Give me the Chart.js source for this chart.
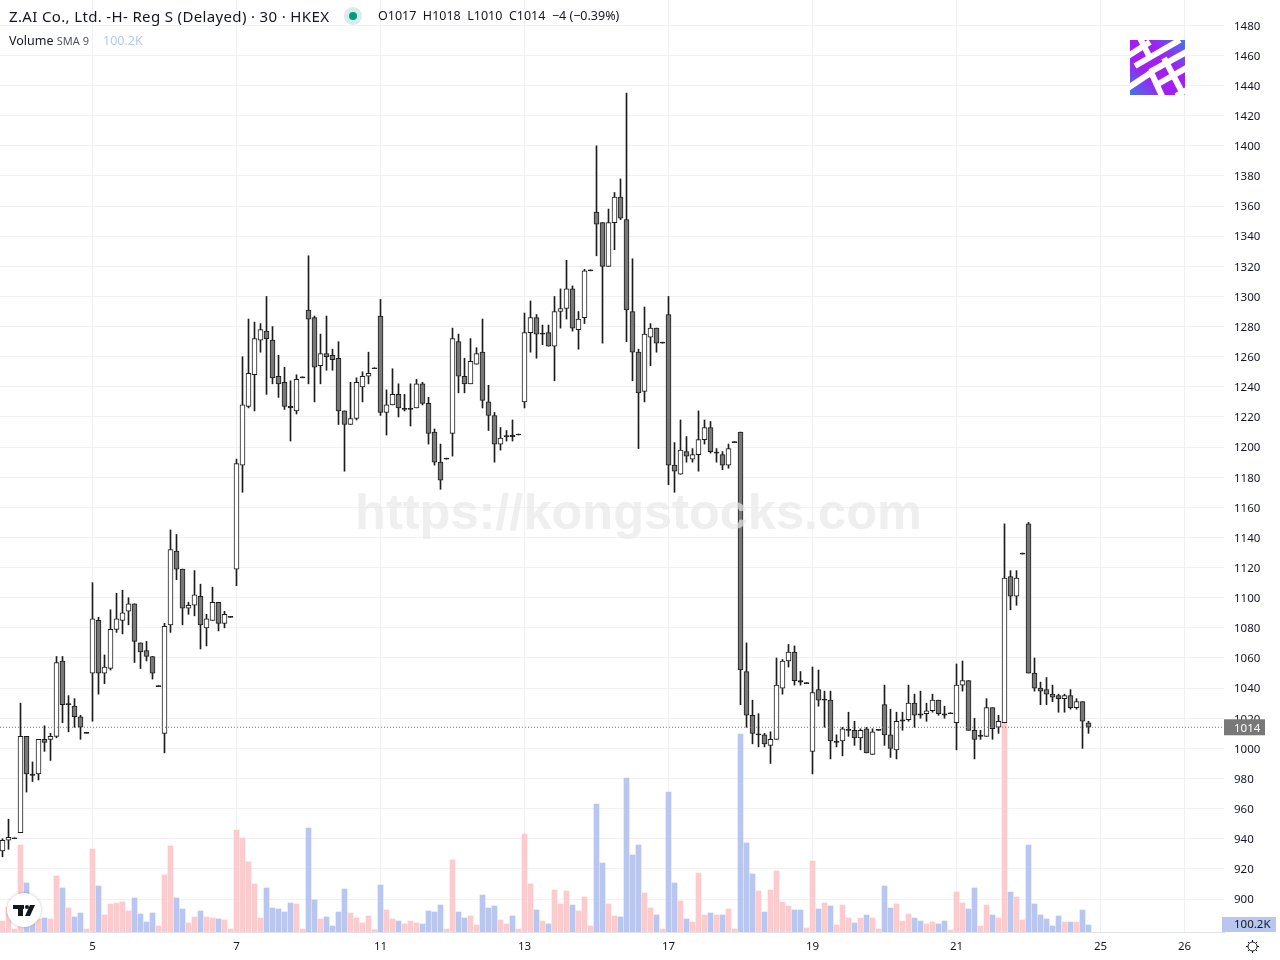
<!DOCTYPE html>
<html>
<head>
<meta charset="utf-8">
<title>Z.AI Co., Ltd. -H- 30</title>
<script src="https://cdn.jsdelivr.net/npm/chart.js@4/dist/chart.umd.min.js"></script>
<style>
  html, body { margin: 0; padding: 0; background: #fff; }
  #wrap { position: relative; width: 1280px; height: 960px; overflow: hidden; font-family: "Noto Sans", sans-serif; color: #131722; }
  canvas { display: block; }
  .txt { position: absolute; white-space: nowrap; line-height: 1; }
</style>
</head>
<body>
<div id="wrap">
  <canvas id="chart" width="1280" height="960"></canvas>
  <div class="txt" style="left:9px;top:9px;font-size:15px;letter-spacing:0.35px">Z.AI Co., Ltd. -H- Reg S (Delayed) · 30 · HKEX</div>
  <div class="txt" style="left:378px;top:10px;font-size:12.5px">O1017&nbsp; H1018&nbsp; L1010&nbsp; C1014&nbsp; −4 (−0.39%)</div>
  <div class="txt" style="left:9px;top:35px;font-size:12.5px">Volume <span style="color:#50535e;font-size:11px">SMA 9</span></div>
  <div class="txt" style="left:103px;top:35px;font-size:12.5px;color:#b8c6f0">100.2K</div>
</div>
<script>
// 30 min bars, one row = 12 bars
const opens = [
  932,939,940,944,1008,983,983,1006,1006,1008,1058,1029,
  1028,1021,1010,1050,1085,1050,1053,1079,1085,1091,1096,1070,
  1065,1061,1041,1010,1082,1131,1119,1093,1095,1101,1080,1085,
  1097,1083,1087,1119,1188,1227,1248,1271,1277,1271,1247,1243,
  1227,1224,1246,1291,1286,1254,1262,1261,1259,1224,1215,1219,
  1240,1247,1252,1287,1223,1228,1235,1225,1225,1226,1242,1229,
  1210,1190,1192,1209,1270,1247,1242,1255,1263,1230,1221,1202,
  1207,1208,1208,1230,1276,1286,1275,1276,1267,1290,1292,1305,
  1278,1286,1317,1356,1349,1320,1349,1366,1351,1290,1263,1237,
  1273,1279,1269,1288,1188,1182,1197,1192,1195,1205,1213,1196,
  1195,1188,1203,1210,1051,1022,1009,1009,1002,1006,1040,1058,
  1064,1045,1043,998,1039,1032,1032,1004,1005,1012,1012,1007,
  1013,996,1012,1029,1009,999,1018,1019,1030,1023,1023,1025,
  1032,1023,1023,1017,1042,1045,1012,1008,1008,1027,1014,1017,
  1114,1101,1129,1149,1050,1040,1039,1036,1035,1033,1035,1027,1031,1017
];
const closes = [
  939,941,940,1008,983,982,1006,1004,1008,1057,1029,1029,
  1021,1014,1010,1086,1050,1054,1079,1086,1090,1096,1071,1064,
  1061,1050,1041,1081,1132,1119,1093,1095,1102,1082,1086,1097,
  1083,1089,1087,1189,1228,1249,1272,1278,1272,1246,1242,1227,
  1226,1245,1246,1285,1253,1262,1260,1258,1224,1215,1219,1243,
  1247,1249,1252,1223,1228,1235,1226,1225,1225,1242,1229,1209,
  1190,1178,1192,1272,1247,1242,1257,1262,1231,1221,1202,1206,
  1207,1207,1208,1276,1286,1275,1275,1267,1290,1292,1305,1279,
  1285,1317,1317,1348,1320,1349,1366,1352,1291,1263,1236,1275,
  1279,1269,1269,1188,1184,1198,1194,1195,1205,1213,1197,1196,
  1188,1199,1203,1052,1022,1010,1009,1003,1006,1042,1058,1064,
  1045,1044,1043,1037,1032,1032,1005,1004,1013,1012,1007,1012,
  997,1011,1012,1009,1000,1018,1019,1030,1022,1022,1025,1032,
  1023,1022,1023,1042,1045,1012,1006,1008,1027,1013,1018,1113,
  1101,1113,1129,1050,1040,1038,1036,1034,1033,1035,1027,1031,1018,1014
];
const highs = [
  940,953,940,1030,1008,991,1006,1015,1010,1061,1061,1035,
  1033,1022,1010,1110,1087,1062,1092,1103,1105,1100,1096,1070,
  1071,1061,1041,1083,1145,1142,1119,1097,1118,1109,1089,1107,
  1097,1091,1087,1192,1260,1285,1283,1282,1300,1280,1261,1253,
  1244,1248,1246,1327,1287,1275,1287,1265,1270,1224,1243,1246,
  1250,1263,1252,1298,1238,1252,1242,1235,1242,1245,1243,1233,
  1212,1202,1192,1279,1275,1259,1272,1266,1285,1241,1223,1213,
  1211,1218,1208,1289,1297,1288,1281,1281,1300,1305,1324,1307,
  1290,1318,1317,1400,1349,1358,1369,1378,1435,1325,1265,1293,
  1282,1279,1269,1300,1203,1218,1207,1199,1224,1218,1217,1199,
  1197,1202,1203,1210,1070,1032,1023,1010,1011,1060,1059,1069,
  1068,1051,1043,1054,1052,1038,1038,1009,1014,1024,1018,1013,
  1014,1013,1012,1042,1026,1024,1024,1042,1036,1038,1030,1036,
  1032,1028,1023,1056,1058,1045,1020,1012,1033,1027,1022,1149,
  1118,1118,1129,1150,1060,1044,1047,1042,1036,1036,1039,1033,1031,1018
];
const lows = [
  928,933,940,944,971,978,979,998,992,1007,1017,1011,
  1014,1006,1010,1018,1036,1043,1052,1077,1076,1082,1057,1053,
  1058,1046,1041,997,1077,1112,1082,1089,1088,1066,1068,1085,
  1078,1080,1087,1108,1170,1226,1224,1263,1235,1242,1233,1225,
  1204,1222,1246,1242,1230,1242,1251,1251,1215,1184,1215,1218,
  1230,1242,1252,1221,1208,1228,1220,1224,1214,1226,1228,1202,
  1188,1172,1192,1194,1236,1236,1242,1255,1226,1211,1190,1198,
  1204,1204,1208,1226,1263,1259,1268,1267,1244,1279,1285,1277,
  1265,1282,1317,1327,1269,1320,1331,1351,1270,1244,1199,1230,
  1254,1263,1269,1175,1170,1182,1190,1190,1184,1202,1196,1190,
  1185,1186,1203,1029,1014,1003,1001,1001,990,1006,1036,1054,
  1042,1042,1043,983,1028,1014,993,1001,995,1008,1002,999,
  997,996,1012,1002,994,993,1012,1018,1014,1020,1018,1024,
  1022,1020,1023,999,1038,1012,993,1006,1008,1006,1010,1017,
  1092,1095,1129,1050,1038,1029,1029,1031,1024,1024,1026,1026,1000,1010
];
// volume in thousands
const volumes = [
  157,353,43,1245,701,167,186,200,186,801,630,343,
  215,272,43,1188,658,243,401,415,429,301,487,258,
  143,272,86,816,1231,487,329,129,215,301,215,200,
  186,172,43,1460,1345,1002,687,200,630,343,329,286,
  415,401,43,1488,458,186,215,86,286,615,272,200,
  129,229,33,673,315,186,157,114,157,129,114,301,
  286,386,43,1030,286,200,229,100,529,343,372,172,
  114,229,43,1402,687,315,157,114,601,401,587,386,
  301,501,86,1832,987,401,229,215,2204,1102,1245,558,
  343,243,43,2003,701,444,186,143,844,243,272,243,
  243,329,43,2833,1274,830,587,286,601,873,429,372,
  315,315,57,1016,329,415,372,100,386,200,129,200,
  243,200,43,658,343,401,157,258,200,157,114,143,
  114,157,29,572,415,329,630,86,386,243,200,3005,
  572,501,172,1245,401,243,186,86,229,143,143,143,315,100
];
const dayLabels = ['5', '7', '11', '13', '17', '19', '21', '25', '26'];
const dayBars = [15, 39, 63, 87, 111, 135, 159, 183, 197];
const priceTicks = [900,920,940,960,980,1000,1020,1040,1060,1080,1100,1120,1140,1160,1180,1200,1220,1240,1260,1280,1300,1320,1340,1360,1380,1400,1420,1440,1460,1480];
const lastPrice = 1014;
const lastVolume = '100.2K';
const watermark = 'https://kongstocks.com';

const GRID = '#f1f1f3';
const WICK = '#1c1c1c';
const xMin = -2.5 / 6, xMax = (1224 - 2.5) / 6;

const isUp = i => closes[i] >= opens[i];
const bodyColor = i => Math.abs(closes[i] - opens[i]) <= 1 ? WICK : (isUp(i) ? '#ffffff' : '#787878');

// no room kept for the half height of the outer tick labels
const noMargins = s => { s.paddingTop = s.paddingBottom = s.paddingLeft = s.paddingRight = 0; };

const overlay = {
  id: 'overlay',
  afterDraw(chart) {
    const ctx = chart.ctx;
    const y = chart.scales.y;
    ctx.save();

    // watermark
    ctx.font = 'bold 50.5px "Liberation Sans"';
    ctx.fillStyle = 'rgba(232,232,232,0.7)';
    ctx.textAlign = 'center';
    ctx.textBaseline = 'middle';
    ctx.fillText(watermark, 638.5, 515);

    // last price tag
    const py = y.getPixelForValue(lastPrice);
    ctx.fillStyle = '#787878';
    ctx.fillRect(1224, py - 8, 41, 16);
    ctx.fillStyle = '#fff';
    ctx.font = '11.5px "Noto Sans"';
    ctx.textAlign = 'left';
    ctx.fillText(String(lastPrice), 1234, py + 1);

    // volume tag
    ctx.fillStyle = '#b8c6f0';
    ctx.fillRect(1222, 917, 54, 15);
    ctx.fillStyle = '#131722';
    ctx.fillText(lastVolume, 1234, 925);

    // status dot
    ctx.fillStyle = '#d5eee9';
    ctx.beginPath(); ctx.arc(353, 16, 9, 0, Math.PI * 2); ctx.fill();
    ctx.fillStyle = '#089981';
    ctx.beginPath(); ctx.arc(353, 16, 4, 0, Math.PI * 2); ctx.fill();

    // gear
    ctx.strokeStyle = '#131722';
    ctx.lineWidth = 1;
    ctx.beginPath(); ctx.arc(1252.5, 946.5, 4.5, 0, Math.PI * 2); ctx.stroke();
    for (let a = 0; a < 8; a++) {
      const r = a * Math.PI / 4;
      ctx.beginPath();
      ctx.moveTo(1252.5 + Math.cos(r) * 4.5, 946.5 + Math.sin(r) * 4.5);
      ctx.lineTo(1252.5 + Math.cos(r) * 6.5, 946.5 + Math.sin(r) * 6.5);
      ctx.stroke();
    }

    // TV badge
    ctx.shadowColor = 'rgba(0,0,0,0.25)';
    ctx.shadowBlur = 3;
    ctx.fillStyle = '#fff';
    ctx.beginPath(); ctx.arc(24, 910, 17, 0, Math.PI * 2); ctx.fill();
    ctx.shadowBlur = 0;
    ctx.fillStyle = '#131722';
    ctx.fillRect(13, 905, 11, 4);
    ctx.fillRect(18, 905, 5, 11);
    ctx.beginPath(); ctx.arc(27, 907, 2, 0, Math.PI * 2); ctx.fill();
    ctx.beginPath();
    ctx.moveTo(30, 905); ctx.lineTo(35, 905); ctx.lineTo(30, 916); ctx.lineTo(25, 916);
    ctx.closePath(); ctx.fill();

    // corner logo
    const g = ctx.createLinearGradient(1130, 95, 1185, 40);
    g.addColorStop(0, '#3f78ea');
    g.addColorStop(0.35, '#a11ff0');
    g.addColorStop(0.65, '#a11ff0');
    g.addColorStop(1, '#3f78ea');
    ctx.save();
    ctx.beginPath(); ctx.rect(1130, 40, 55, 55); ctx.clip();
    ctx.fillStyle = g;
    ctx.fillRect(1130, 40, 55, 55);
    ctx.strokeStyle = '#fff';
    ctx.lineWidth = 6;
    [[1128, 56, 1150, 42], [1135, 66, 1180, 40], [1150, 72, 1190, 50], [1158, 84, 1190, 66], [1176, 96, 1190, 88]].forEach(s => {
      ctx.beginPath(); ctx.moveTo(s[0], s[1]); ctx.lineTo(s[2], s[3]); ctx.stroke();
    });
    [[1140, 38, 1150, 58], [1128, 88, 1152, 72], [1150, 70, 1162, 96], [1164, 58, 1182, 92]].forEach(s => {
      ctx.beginPath(); ctx.moveTo(s[0], s[1]); ctx.lineTo(s[2], s[3]); ctx.stroke();
    });
    ctx.restore();

    ctx.restore();
  }
};

new Chart(document.getElementById('chart'), {
  data: {
    datasets: [
      {
        type: 'bar', label: 'Volume', yAxisID: 'v', order: 4, grouped: false, barThickness: 5,
        data: volumes.map((v, i) => ({ x: i, y: v })),
        backgroundColor: volumes.map((v, i) => isUp(i) ? '#fccbcd' : '#b8c6f0'),
      },
      {
        type: 'bar', label: 'Range', yAxisID: 'y', order: 3, grouped: false, barThickness: 1, minBarLength: 1,
        data: highs.map((h, i) => ({ x: i, y: [lows[i], h] })),
        backgroundColor: WICK,
      },
      {
        type: 'bar', label: 'Body', yAxisID: 'y', order: 2, grouped: false, barThickness: 5, minBarLength: 1,
        data: opens.map((o, i) => ({ x: i, y: [o, closes[i]] })),
        backgroundColor: opens.map((o, i) => bodyColor(i)),
        borderColor: WICK, borderWidth: 1, borderSkipped: false,
      },
      {
        type: 'line', label: 'Last', yAxisID: 'y', order: 1,
        data: [{ x: xMin, y: lastPrice }, { x: xMax, y: lastPrice }],
        borderColor: '#787878', borderWidth: 1, borderDash: [1, 2], pointRadius: 0,
      },
    ]
  },
  options: {
    responsive: false, animation: false, devicePixelRatio: 1,
    layout: { padding: 0 },
    plugins: { legend: { display: false }, tooltip: { enabled: false } },
    scales: {
      x: {
        type: 'linear', min: xMin, max: xMax, offset: false,
        afterBuildTicks: s => { s.ticks = dayBars.map(v => ({ value: v })); },
        afterFit: s => { s.height = 28; noMargins(s); },
        grid: { color: GRID, drawTicks: false, offset: false },
        border: { color: '#e0e3eb' },
        ticks: {
          autoSkip: false, maxRotation: 0, padding: 8, color: '#131722',
          font: { family: '"Noto Sans"', size: 11.5 },
          callback: v => dayLabels[dayBars.indexOf(v)],
        },
      },
      y: {
        position: 'right', min: 878.1, max: 1496.8,
        afterBuildTicks: s => { s.ticks = priceTicks.map(v => ({ value: v })); },
        afterFit: s => { s.width = 56; noMargins(s); },
        grid: { color: GRID, drawTicks: false },
        border: { display: false },
        ticks: {
          autoSkip: false, padding: 10, labelOffset: 1, color: '#131722',
          font: { family: '"Noto Sans"', size: 11.5 },
          callback: v => String(v),
        },
      },
      v: { display: false, min: 0, max: 13337 },
    }
  },
  plugins: [overlay]
});
</script>
</body>
</html>
